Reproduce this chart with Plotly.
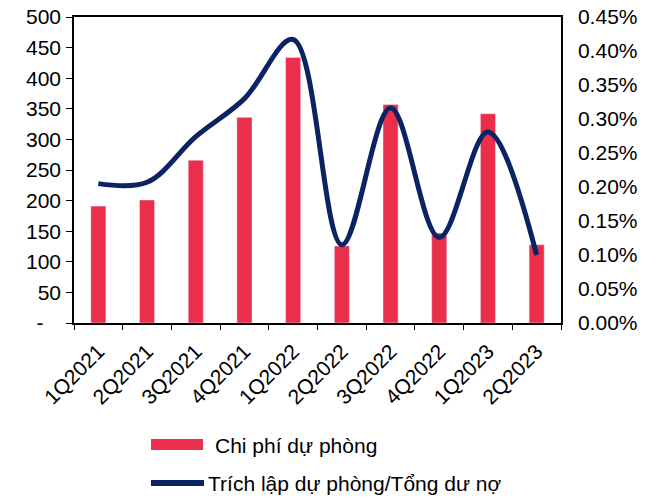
import plotly.graph_objects as go

categories = ["1Q2021", "2Q2021", "3Q2021", "4Q2021", "1Q2022",
              "2Q2022", "3Q2022", "4Q2022", "1Q2023", "2Q2023"]
chi_phi_du_phong = [191, 201, 266, 336, 434, 126, 357, 147, 342, 128]
trich_lap_ratio = [0.00205, 0.00207, 0.00274, 0.00330, 0.00417,
                   0.00115, 0.00316, 0.00126, 0.00281, 0.00100]
left_ticks = [0, 50, 100, 150, 200, 250, 300, 350, 400, 450, 500]
left_ticktext = ["-\u00a0\u00a0\u00a0"] + [str(v) for v in left_ticks[1:]]
right_ticks = [i * 0.0005 for i in range(10)]

name_bar = "Chi phí dự phòng"
name_line = "Trích lập dự phòng/Tổng dư nợ"

BAR_COLOR = "#EA2E4C"
LINE_COLOR = "#0B2363"
FONT = "Liberation Sans, Arial, sans-serif"
FS = 21

fig = go.Figure()
fig.add_trace(go.Bar(x=categories, y=chi_phi_du_phong, name=name_bar,
                     marker_color=BAR_COLOR, width=0.31, showlegend=False))
fig.add_trace(go.Scatter(x=categories, y=trich_lap_ratio, name=name_line,
                         mode="lines", yaxis="y2",
                         line=dict(color=LINE_COLOR, width=5, shape="spline", smoothing=1),
                         showlegend=False))

fig.update_layout(
    width=656, height=498,
    margin=dict(l=74, r=95, t=17, b=175),
    paper_bgcolor="white", plot_bgcolor="white",
    font=dict(family=FONT, size=FS, color="black"),
    xaxis=dict(type="category", showline=True, linecolor="black", linewidth=1.5,
               mirror=True, ticks="outside", ticklen=5, tickcolor="black",
               tickson="boundaries", tickangle=-45, showgrid=False,
               tickfont=dict(size=FS), ticklabelstandoff=6, automargin=False),
    yaxis=dict(range=[0, 500], tickvals=left_ticks, ticktext=left_ticktext,
               showline=True, linecolor="black", linewidth=1.5,
               ticks="outside", ticklen=6, tickcolor="black",
               showgrid=False, zeroline=False, ticklabelstandoff=1,
               automargin=False),
    yaxis2=dict(range=[0, 0.0045], tickvals=right_ticks, tickformat=".2%",
                overlaying="y", side="right", showline=True, linecolor="black",
                linewidth=1.5, ticks="", showgrid=False, zeroline=False,
                ticklabelstandoff=11, automargin=False),
)

# legend drawn manually (bottom, stacked)
def px_x(px):
    return (px - 74) / 487.0

def px_y(py):
    return (323 - py) / 306.0

fig.add_shape(type="rect", xref="paper", yref="paper",
              x0=px_x(151), x1=px_x(203), y0=px_y(450), y1=px_y(439),
              fillcolor=BAR_COLOR, line=dict(width=0))
fig.add_shape(type="line", xref="paper", yref="paper",
              x0=px_x(151), x1=px_x(204), y0=px_y(483), y1=px_y(483),
              line=dict(color=LINE_COLOR, width=6))
fig.add_annotation(text=name_bar, xref="paper", yref="paper",
                   x=px_x(213), y=px_y(445), xanchor="left", yanchor="middle",
                   showarrow=False, font=dict(size=FS, family=FONT, color="black"))
fig.add_annotation(text=name_line, xref="paper", yref="paper",
                   x=px_x(206), y=px_y(483), xanchor="left", yanchor="middle",
                   showarrow=False, font=dict(size=FS, family=FONT, color="black"))

fig.write_html("out.html",
               config={"displayModeBar": False},
               post_script="document.body.style.margin='0';"
                           "document.documentElement.style.overflow='hidden';")
